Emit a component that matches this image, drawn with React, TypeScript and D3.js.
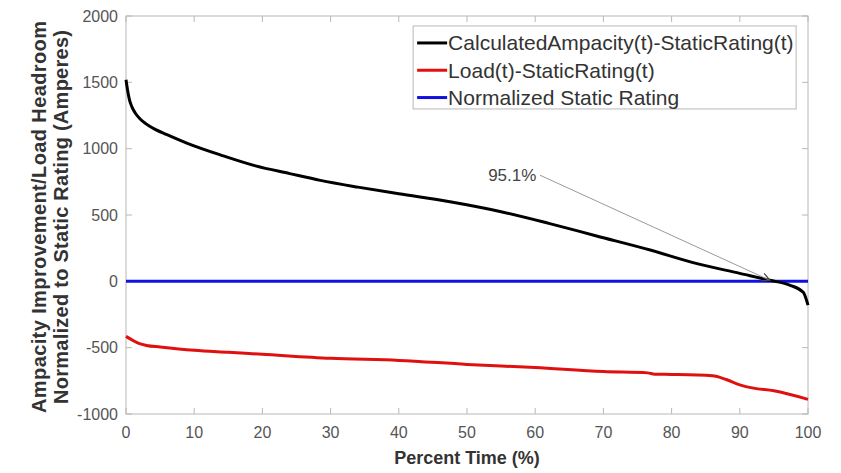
import { useEffect, useRef } from 'react';
import * as d3 from 'd3';

// percent time (%) and headroom values
const ampPct = [0, 0.2, 0.5, 0.9, 1.4, 2, 3, 4, 6, 9, 14, 19, 24, 28.5, 34, 40, 47.5, 55, 62, 69, 77, 83, 90, 94.4, 97.4, 99.3, 100];
const ampVal = [1520, 1450, 1370, 1311, 1265, 1228, 1185, 1153, 1105, 1040, 950, 870, 812, 761, 710, 660, 600, 525, 437, 342, 234, 143, 60, 8, -30, -83, -180];

const loadPct = [0, 1, 2, 3, 5, 10, 15, 20, 30, 40, 50, 60, 70, 76.5, 77.5, 80, 86, 88, 90, 92, 95, 100];
const loadVal = [-415, -445, -470, -483, -495, -520, -535, -550, -580, -596, -626, -650, -680, -690, -700, -702, -712, -740, -780, -805, -825, -890];

const xTicks = [0, 10, 20, 30, 40, 50, 60, 70, 80, 90, 100];
const yTicks = [-1000, -500, 0, 500, 1000, 1500, 2000];

const legendItems = [
  { label: 'CalculatedAmpacity(t)-StaticRating(t)', color: '#000000' },
  { label: 'Load(t)-StaticRating(t)', color: '#e01010' },
  { label: 'Normalized Static Rating', color: '#1010e0' },
];

const App = () => {
  const svgRef = useRef<SVGSVGElement>(null);

  useEffect(() => {
    document.body.style.margin = '0';
    document.body.style.overflow = 'hidden';

    const svg = d3.select(svgRef.current);
    svg.selectAll('*').remove();

    const margin = { top: 16, right: 33, bottom: 59, left: 126 };
    const width = 841 - margin.left - margin.right;
    const height = 473 - margin.top - margin.bottom;
    const font = 'Arial, "Liberation Sans", sans-serif';
    const axisColor = '#b8b8b8';

    const g = svg.append('g').attr('transform', `translate(${margin.left},${margin.top})`);

    const x = d3.scaleLinear().domain([0, 100]).range([0, width]);
    const y = d3.scaleLinear().domain([-1000, 2000]).range([height, 0]);

    // box
    g.append('rect')
      .attr('width', width)
      .attr('height', height)
      .attr('fill', 'none')
      .attr('stroke', axisColor)
      .attr('stroke-width', 1);

    // ticks inside box
    const tickLen = 6;
    xTicks.forEach(t => {
      g.append('line').attr('x1', x(t)).attr('x2', x(t)).attr('y1', height).attr('y2', height - tickLen).attr('stroke', axisColor);
      g.append('line').attr('x1', x(t)).attr('x2', x(t)).attr('y1', 0).attr('y2', tickLen).attr('stroke', axisColor);
      g.append('text')
        .attr('x', x(t))
        .attr('y', height + 24)
        .attr('text-anchor', 'middle')
        .attr('font-family', font)
        .attr('font-size', '16px')
        .attr('fill', '#555')
        .text(t);
    });
    yTicks.forEach(t => {
      g.append('line').attr('x1', 0).attr('x2', tickLen).attr('y1', y(t)).attr('y2', y(t)).attr('stroke', axisColor);
      g.append('line').attr('x1', width).attr('x2', width - tickLen).attr('y1', y(t)).attr('y2', y(t)).attr('stroke', axisColor);
      g.append('text')
        .attr('x', -8)
        .attr('y', y(t))
        .attr('dy', '0.35em')
        .attr('text-anchor', 'end')
        .attr('font-family', font)
        .attr('font-size', '16px')
        .attr('fill', '#555')
        .text(t);
    });

    // axis labels
    g.append('text')
      .attr('x', width / 2)
      .attr('y', height + 50)
      .attr('text-anchor', 'middle')
      .attr('font-family', font)
      .attr('font-size', '18px')
      .attr('font-weight', 'bold')
      .attr('fill', '#333')
      .text('Percent Time (%)');

    const yl = g.append('text')
      .attr('transform', `translate(${-80},${height / 2 + 2}) rotate(-90)`)
      .attr('text-anchor', 'middle')
      .attr('font-family', font)
      .attr('font-size', '20px')
      .attr('font-weight', 'bold')
      .attr('fill', '#333');
    yl.append('tspan').attr('x', 0).attr('dy', 0).attr('textLength', 392).text('Ampacity Improvement/Load Headroom');
    yl.append('tspan').attr('x', 0).attr('dy', 22).attr('textLength', 374).text('Normalized to Static Rating (Amperes)');

    const line = d3.line<[number, number]>()
      .x(d => x(d[0]))
      .y(d => y(d[1]))
      .curve(d3.curveMonotoneX);

    // static rating
    g.append('path')
      .datum([[0, 0], [100, 0]] as [number, number][])
      .attr('d', line)
      .attr('fill', 'none')
      .attr('stroke', legendItems[2].color)
      .attr('stroke-width', 3);

    g.append('path')
      .datum(loadPct.map((p, i) => [p, loadVal[i]] as [number, number]))
      .attr('d', line)
      .attr('fill', 'none')
      .attr('stroke', legendItems[1].color)
      .attr('stroke-width', 3);

    g.append('path')
      .datum(ampPct.map((p, i) => [p, ampVal[i]] as [number, number]))
      .attr('d', line)
      .attr('fill', 'none')
      .attr('stroke', legendItems[0].color)
      .attr('stroke-width', 3);

    // annotation arrow
    const defs = svg.append('defs');
    defs.append('marker')
      .attr('id', 'arr')
      .attr('viewBox', '0 0 10 10')
      .attr('refX', 10)
      .attr('refY', 5)
      .attr('markerWidth', 10)
      .attr('markerHeight', 8)
      .attr('markerUnits', 'userSpaceOnUse')
      .attr('orient', 'auto')
      .append('path')
      .attr('d', 'M0,0 L10,5 L0,10')
      .attr('fill', 'none')
      .attr('stroke', '#444')
      .attr('stroke-width', 1.5);

    g.append('line')
      .attr('x1', x(60.7))
      .attr('y1', y(800))
      .attr('x2', x(94.4))
      .attr('y2', y(8))
      .attr('stroke', '#999')
      .attr('stroke-width', 1)
      .attr('marker-end', 'url(#arr)');
    g.append('text')
      .attr('x', x(53.1))
      .attr('y', y(800))
      .attr('dy', '0.35em')
      .attr('font-family', font)
      .attr('font-size', '17px')
      .attr('fill', '#444')
      .text('95.1%');

    // legend
    const lg = g.append('g').attr('transform', `translate(${x(42.1)},${y(1925)})`);
    lg.append('rect')
      .attr('width', 383)
      .attr('height', 83)
      .attr('fill', '#fff')
      .attr('stroke', axisColor);
    legendItems.forEach((it, i) => {
      const cy = 17 + i * 27.3;
      lg.append('line')
        .attr('x1', 4)
        .attr('x2', 34)
        .attr('y1', cy)
        .attr('y2', cy)
        .attr('stroke', it.color)
        .attr('stroke-width', 3);
      lg.append('text')
        .attr('x', 35)
        .attr('y', cy)
        .attr('dy', '0.35em')
        .attr('font-family', font)
        .attr('font-size', '21px')
        .attr('fill', '#333')
        .text(it.label);
    });
  }, []);

  return (
    <div style={{ position: 'absolute', top: 0, left: 0 }}>
      <svg ref={svgRef} width={841} height={473} style={{ display: 'block', background: '#fff' }} />
    </div>
  );
};

export default App;
